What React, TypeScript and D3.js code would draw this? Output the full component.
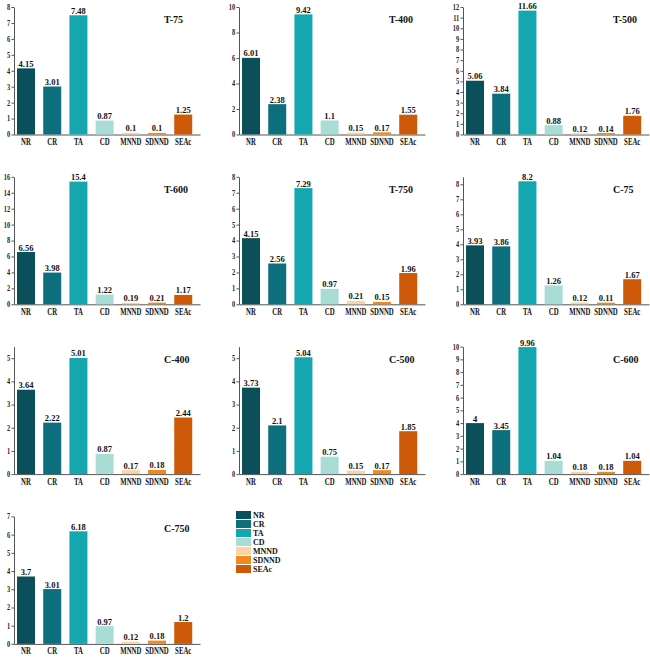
import { useEffect, useRef } from "react";
import * as d3 from "d3";

const categories = ["NR", "CR", "TA", "CD", "MNND", "SDNND", "SEAc"];
const colors = ["#0a4f5a", "#0d6e7d", "#14a7b0", "#a9dcd5", "#fbd3a6", "#f18a1e", "#cc5a08"];

const titles = ["T-75", "T-400", "T-500", "T-600", "T-750", "C-75", "C-400", "C-500", "C-600", "C-750"];
const values = [
  [4.15, 3.01, 7.48, 0.87, 0.1, 0.1, 1.25],
  [6.01, 2.38, 9.42, 1.1, 0.15, 0.17, 1.55],
  [5.06, 3.84, 11.66, 0.88, 0.12, 0.14, 1.76],
  [6.56, 3.98, 15.4, 1.22, 0.19, 0.21, 1.17],
  [4.15, 2.56, 7.29, 0.97, 0.21, 0.15, 1.96],
  [3.93, 3.86, 8.2, 1.26, 0.12, 0.11, 1.67],
  [3.64, 2.22, 5.01, 0.87, 0.17, 0.18, 2.44],
  [3.73, 2.1, 5.04, 0.75, 0.15, 0.17, 1.85],
  [4, 3.45, 9.96, 1.04, 0.18, 0.18, 1.04],
  [3.7, 3.01, 6.18, 0.97, 0.12, 0.18, 1.2],
];
const yMaxes = [8, 10, 12, 16, 8, 8.5, 5.5, 5.5, 10, 7];
const tickSteps = [1, 2, 1, 2, 1, 1, 1, 1, 1, 1];

const width = 650;
const height = 657;
const font = "'Liberation Serif', 'Times New Roman', serif";

const App = () => {
  const ref = useRef(null);

  useEffect(() => {
    const svg = d3.select(ref.current);
    svg.selectAll("*").remove();

    const colX = [14, 239, 463];
    const plotW = 186;
    const plotH = 127.5;

    titles.forEach((title, p) => {
      const col = p % 3;
      const row = Math.floor(p / 3);
      const x0 = colX[col];
      const y0 = 7 + row * 169.8;

      const g = svg.append("g").attr("transform", `translate(${x0},${y0})`);

      const x = d3
        .scaleBand()
        .domain(categories)
        .range([0, plotW])
        .paddingInner(0.313)
        .paddingOuter(0.206)
        .align(0.28);
      const y = d3.scaleLinear().domain([0, yMaxes[p]]).range([plotH, 0]);
      const ticks = d3.range(0, yMaxes[p] + 0.001, tickSteps[p]);

      const yAxis = g
        .append("g")
        .call(d3.axisLeft(y).tickValues(ticks).tickSize(2.5).tickSizeOuter(0).tickPadding(2).tickFormat(d3.format("d")));
      yAxis
        .selectAll("text")
        .attr("font-family", font)
        .attr("font-size", 7.5)
        .attr("font-weight", "bold")
        .attr("fill", "#222")
        .attr("transform", "scale(0.85,1)");
      yAxis.selectAll("line, path").attr("stroke", "#555");

      const xAxis = g
        .append("g")
        .attr("transform", `translate(0,${plotH})`)
        .call(d3.axisBottom(x).tickSize(0).tickSizeOuter(0).tickPadding(3.5));
      xAxis
        .selectAll("text")
        .attr("font-family", font)
        .attr("font-size", 10)
        .attr("font-weight", "bold")
        .attr("fill", "#111")
        .attr("transform", "scale(0.68,1)");
      xAxis.selectAll("path").attr("stroke", "#555");

      g.selectAll("rect.bar")
        .data(values[p])
        .join("rect")
        .attr("class", "bar")
        .attr("x", (d, i) => x(categories[i]))
        .attr("width", x.bandwidth())
        .attr("y", (d) => y(d))
        .attr("height", (d) => plotH - y(d))
        .attr("fill", (d, i) => colors[i]);

      g.selectAll("text.val")
        .data(values[p])
        .join("text")
        .attr("class", "val")
        .attr("x", (d, i) => x(categories[i]) + x.bandwidth() / 2)
        .attr("y", (d) => y(d) - 1.5)
        .attr("text-anchor", "middle")
        .attr("font-family", font)
        .attr("font-size", 8.5)
        .attr("font-weight", "bold")
        .attr("fill", "#111")
        .text((d) => String(d));

      g.append("text")
        .attr("x", 150)
        .attr("y", 16)
        .attr("font-family", font)
        .attr("font-size", 10)
        .attr("font-weight", "bold")
        .attr("fill", "#111")
        .text(title);
    });

    // legend
    const legend = svg.append("g").attr("transform", "translate(236,511)");
    categories.forEach((c, i) => {
      legend
        .append("rect")
        .attr("x", 0)
        .attr("y", i * 9)
        .attr("width", 15)
        .attr("height", 8)
        .attr("fill", colors[i]);
      legend
        .append("text")
        .attr("x", 17)
        .attr("y", i * 9 + 7)
        .attr("font-family", font)
        .attr("font-size", 8)
        .attr("font-weight", "bold")
        .attr("fill", "#111")
        .text(c);
    });
  }, []);

  return (
    <svg
      ref={ref}
      width={width}
      height={height}
      style={{ position: "absolute", left: 0, top: 0, background: "#fff" }}
    ></svg>
  );
};

export default App;
